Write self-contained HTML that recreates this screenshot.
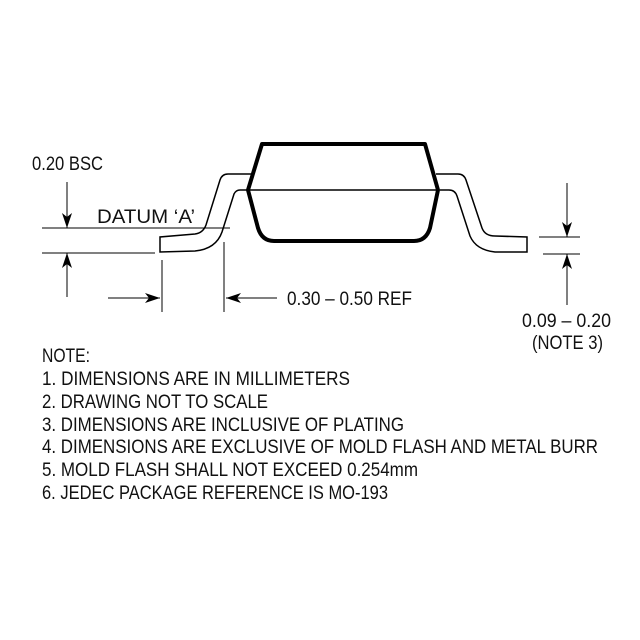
<!DOCTYPE html>
<html><head><meta charset="utf-8"><style>html,body{margin:0;padding:0;background:#fff}svg{display:block}</style></head>
<body>
<svg width="640" height="640" viewBox="0 0 640 640" xmlns="http://www.w3.org/2000/svg" font-family="Liberation Sans, sans-serif" font-size="19.5" fill="#111">
<defs><marker id="a" markerWidth="15" markerHeight="10" refX="15" refY="5" orient="auto" markerUnits="userSpaceOnUse"><path d="M0,0 L15,5 L0,10 L4,5 Z" fill="#000"/></marker></defs>
<g fill="none" stroke="#000">
<path d="M262,144 L425,144 L438,190 L430,228 Q426,241 414,241 L274,241 Q262,241 258,228 L248,190 Z" stroke-width="4" stroke-linejoin="round"/>
<line x1="248" y1="190" x2="438" y2="190" stroke-width="1.5"/>
<path d="M252,174 L228,174 Q222,174 220,180 L206,225 Q203,233 195,234 L160,237 L160,252 L195,251 Q216,249 222,232 L234,194 Q236,190 240,190 L248,190" stroke-width="1.5"/>
<path d="M436,174 L458,174 Q464,174 466,180 L482,228 Q485,236 495,236 L527,237 L527,252 L495,252 Q476,250 470,236 L457,196 Q455,190 449,190 L440,190" stroke-width="1.5"/>
<line x1="42" y1="228" x2="230" y2="228" stroke-width="1"/>
<line x1="42" y1="253" x2="155" y2="253" stroke-width="1"/>
<line x1="67" y1="182" x2="67" y2="228" stroke-width="1" marker-end="url(#a)"/>
<line x1="67" y1="297" x2="67" y2="253" stroke-width="1" marker-end="url(#a)"/>
<line x1="162" y1="260" x2="162" y2="312" stroke-width="1"/>
<line x1="224" y1="242" x2="224" y2="312" stroke-width="1"/>
<line x1="108" y1="298" x2="160" y2="298" stroke-width="1" marker-end="url(#a)"/>
<line x1="277" y1="298" x2="226" y2="298" stroke-width="1" marker-end="url(#a)"/>
<line x1="539" y1="237" x2="580" y2="237" stroke-width="1"/>
<line x1="543" y1="254" x2="580" y2="254" stroke-width="1"/>
<line x1="567" y1="183" x2="567" y2="237" stroke-width="1" marker-end="url(#a)"/>
<line x1="567" y1="305" x2="567" y2="254" stroke-width="1" marker-end="url(#a)"/>
</g>
<text x="32" y="170" textLength="71" lengthAdjust="spacingAndGlyphs">0.20 BSC</text>
<text x="97" y="223" textLength="98" lengthAdjust="spacingAndGlyphs">DATUM ‘A’</text>
<text x="287" y="305" textLength="125" lengthAdjust="spacingAndGlyphs">0.30 – 0.50 REF</text>
<text x="522" y="327" textLength="89" lengthAdjust="spacingAndGlyphs">0.09 – 0.20</text>
<text x="532" y="349" textLength="71" lengthAdjust="spacingAndGlyphs">(NOTE 3)</text>
<text x="42" y="362" textLength="48" lengthAdjust="spacingAndGlyphs">NOTE:</text>
<text x="42" y="385" textLength="308" lengthAdjust="spacingAndGlyphs">1. DIMENSIONS ARE IN MILLIMETERS</text>
<text x="42" y="408" textLength="226" lengthAdjust="spacingAndGlyphs">2. DRAWING NOT TO SCALE</text>
<text x="42" y="431" textLength="362" lengthAdjust="spacingAndGlyphs">3. DIMENSIONS ARE INCLUSIVE OF PLATING</text>
<text x="42" y="453" textLength="556" lengthAdjust="spacingAndGlyphs">4. DIMENSIONS ARE EXCLUSIVE OF MOLD FLASH AND METAL BURR</text>
<text x="42" y="476" textLength="376" lengthAdjust="spacingAndGlyphs">5. MOLD FLASH SHALL NOT EXCEED 0.254mm</text>
<text x="42" y="499" textLength="346" lengthAdjust="spacingAndGlyphs">6. JEDEC PACKAGE REFERENCE IS MO-193</text>
</svg>
</body></html>
